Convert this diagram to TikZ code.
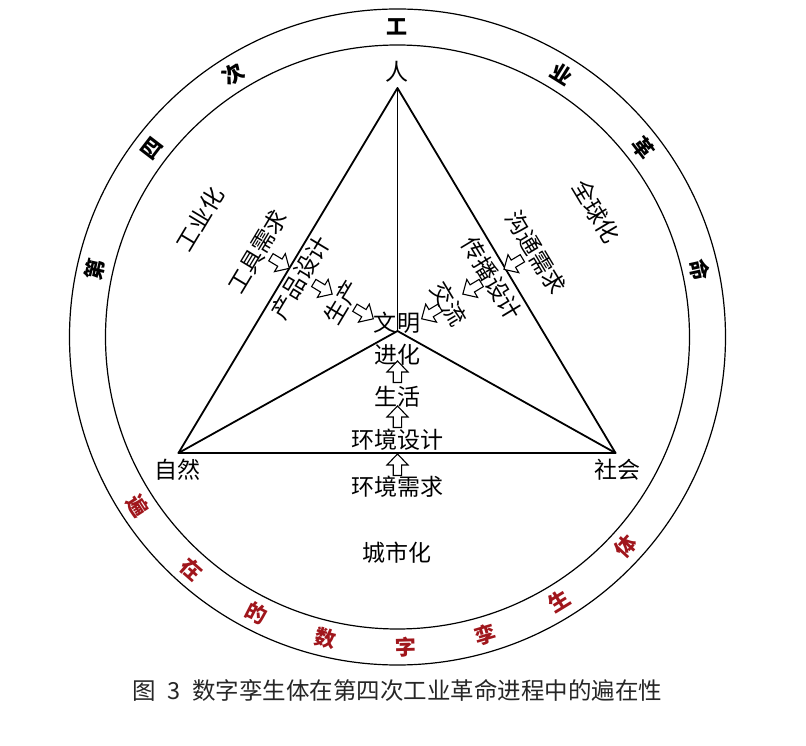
\documentclass[tikz,border=0pt]{standalone}
\usepackage{fontspec}
\setmainfont{Noto Sans CJK SC}
\usetikzlibrary{calc}
\definecolor{ringred}{RGB}{160,22,28}
\tikzset{
  txt/.style={inner sep=0pt, font=\fontsize{23}{23}\selectfont},
  ringtxt/.style={inner sep=0pt, font=\fontsize{21}{21}\selectfont\bfseries},
  redtxt/.style={ringtxt, text=ringred},
  edgeline/.style={line width=1.8pt, line join=round, line cap=round},
  ringline/.style={line width=1.2pt},
  hollowarrow/.pic={\draw[line width=1.1pt, fill=white, line join=miter]
     (-10.5,0)--(0,11)--(10.5,0)--(4.2,0)--(4.2,-10.5)--(-4.2,-10.5)--(-4.2,0)--cycle;}
}
\begin{document}
\begin{tikzpicture}[x=1pt,y=1pt]
\useasboundingbox (-397.5,-409) rectangle (408.5,337);
% rings
\draw[ringline] (0,0) circle (328);
\draw[ringline] (0,0) circle (292);
% ring text
\foreach \a/\c in {167.5/第,142.5/四,122/次,90/工,58/业,37.5/革,12.5/命}{
  \node[ringtxt, rotate=\a-90] (r\a) at (\a:310) {\c};
}
\foreach \a/\c in {213/遍,228.5/在,243/的,256.5/数,271.5/字,286.5/孪,301.5/生,317.5/体}{
  \node[redtxt, rotate=\a+90] (b\a) at (\a:310) {\c};
}
% triangle
\coordinate (top) at (0,249);
\coordinate (lft) at (-219,-116);
\coordinate (rgt) at (218,-116);
\coordinate (mid) at (0,6);
\draw[edgeline] (top) -- (lft) -- (rgt) -- cycle;
\draw[edgeline] (top) -- (mid);
\draw[edgeline] (lft) -- (mid) -- (rgt);
% vertex labels
\node[txt] (ren) at (0,265) {人};
\node[txt] (ziran) at (-219.5,-133) {自然};
\node[txt] (shehui) at (219.5,-133) {社会};
% centre stack
\node[txt] (wen) at (-12,14) {文};
\node[txt] (ming) at (12,14) {明};
\node[txt] (jinhua) at (0,-18) {进化};
\pic at (0,-35) {hollowarrow};
\node[txt] (shenghuo) at (0,-60) {生活};
\pic at (0,-80) {hollowarrow};
\node[txt] (hjsj) at (0,-103) {环境设计};
\pic at (0,-128) {hollowarrow};
\node[txt] (hjxq) at (0,-150) {环境需求};
\node[txt] (csh) at (0,-216) {城市化};
% left side (industrialisation)
\pic[rotate=-121] at ($(mid)+(149:38)+(59:-2)$) {hollowarrow};
\node[txt, rotate=59] (shengchan) at ($(mid)+(149:62)+(59:-4)$) {生产};
\pic[rotate=-121] at ($(mid)+(149:86)+(59:-2)$) {hollowarrow};
\node[txt, rotate=59] (cpsj) at ($(mid)+(149:111)+(59:-4)$) {产品设计};
\pic[rotate=-121] at ($(mid)+(149:136)+(59:-2)$) {hollowarrow};
\node[txt, rotate=59] (gjxq) at ($(mid)+(149:161)+(59:-4)$) {工具需求};
\node[txt, rotate=59] (gyh) at ($(mid)+(149:227)+(59:-6)$) {工业化};
% right side (globalisation)
\pic[rotate=121] at ($(mid)+(31:38)+(121:-2)$) {hollowarrow};
\node[txt, rotate=-59] (jiaoliu) at ($(mid)+(31:58)+(121:-3)$) {交流};
\pic[rotate=121] at ($(mid)+(31:86)+(121:-2)$) {hollowarrow};
\node[txt, rotate=-59] (cbsj) at ($(mid)+(31:108)+(121:-4)$) {传播设计};
\pic[rotate=121] at ($(mid)+(31:134)+(121:-2)$) {hollowarrow};
\node[txt, rotate=-59] (gtxq) at ($(mid)+(31:159)+(121:-4)$) {沟通需求};
\node[txt, rotate=-59] (qqh) at ($(mid)+(31:232)+(121:0)$) {全球化};
% caption
\node[inner sep=0pt, font=\fontsize{23.5}{23.5}\selectfont, text=black!85] (cap) at (0,-353) {图\hspace{0.5em}3\hspace{0.5em}数字孪生体在第四次工业革命进程中的遍在性};
\end{tikzpicture}
\end{document}
